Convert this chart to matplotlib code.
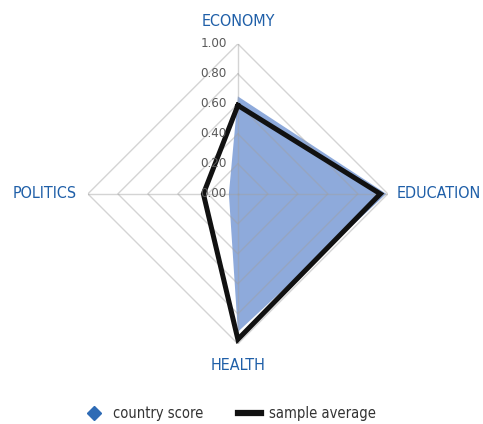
import matplotlib
matplotlib.use('Agg')
import matplotlib.pyplot as plt
import numpy as np
from matplotlib.lines import Line2D

plt.rcParams['font.family'] = ['DejaVu Sans']
plt.rcParams['font.stretch'] = 'condensed'

# data
categories = ['ECONOMY', 'EDUCATION', 'HEALTH', 'POLITICS']
country_score = [0.65, 0.99, 0.92, 0.06]
sample_average = [0.59, 0.95, 0.97, 0.23]
ring_values = [0.2, 0.4, 0.6, 0.8, 1.0]
tick_labels = ['0.00', '0.20', '0.40', '0.60', '0.80', '1.00']

blue_fill = '#8eaadb'
label_blue = '#1f5fa8'

fig = plt.figure(figsize=(4.83, 4.24), dpi=100)
ax = fig.add_axes([0.182, 0.189, 0.621, 0.7075], projection='polar')
ax.set_theta_zero_location('N')
ax.set_theta_direction(-1)
ax.set_ylim(0, 1)
ax.grid(False)
ax.spines['polar'].set_visible(False)
ax.set_xticks([])
ax.set_yticks([])
ax.patch.set_alpha(0)

theta = np.linspace(0, 2 * np.pi, len(categories), endpoint=False)
theta_c = np.append(theta, theta[0])

# country score
cs = np.append(country_score, country_score[0])
ax.fill(theta_c, cs, color=blue_fill, lw=0, zorder=1)

# diamond grid
for rv in ring_values:
    ax.plot(theta_c, [rv] * len(theta_c), color='#a0a0a0', alpha=0.45, lw=1.0, zorder=2)
for t in theta:
    ax.plot([t, t], [0, 1], color='#a0a0a0', alpha=0.45, lw=1.0, zorder=2)

# sample average
sa = np.append(sample_average, sample_average[0])
ax.plot(theta_c, sa, color='#111111', lw=3.6, zorder=3, solid_joinstyle='miter')

# radial tick labels
for i, lab in enumerate(tick_labels):
    ax.annotate(lab, xy=(0, i * 0.2), xytext=(-8, 0), textcoords='offset points',
                ha='right', va='center', fontsize=9.5, color='#595959', zorder=4)

# category labels
offsets = [(0, 11, 'center', 'bottom'), (6.5, 0, 'left', 'center'),
           (0, -10.5, 'center', 'top'), (-8, 0, 'right', 'center')]
for t, name, (dx, dy, ha, va) in zip(theta, categories, offsets):
    ax.annotate(name, xy=(t, 1.0), xytext=(dx, dy), textcoords='offset points',
                ha=ha, va=va, fontsize=11.5, color=label_blue, annotation_clip=False)

# legend
handles = [Line2D([], [], marker='D', color='#2e6bb5', ls='none', markersize=7),
           Line2D([], [], color='#111111', lw=4.5)]
fig.legend(handles, ['country score', 'sample average'], loc='center',
           bbox_to_anchor=(0.474, 0.025), ncol=2, frameon=False, fontsize=10.5,
           handlelength=1.6, handletextpad=0.5, columnspacing=2.4,
           labelcolor='#333333')

fig.savefig('out.png', dpi=100)
